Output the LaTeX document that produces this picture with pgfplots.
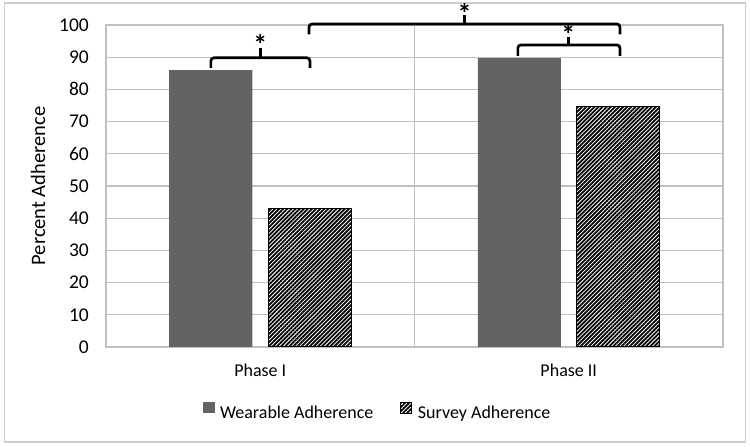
\documentclass[border=0pt]{standalone}
\usepackage{fontspec}
\setmainfont{Carlito}
\usepackage{pgfplots}
\pgfplotsset{compat=1.18}
\usetikzlibrary{patterns.meta}
\definecolor{wear}{RGB}{99,99,99}
\definecolor{gridc}{RGB}{192,192,192}
\definecolor{framec}{RGB}{205,205,205}
\begin{document}
\begin{tikzpicture}[x=1pt,y=1pt]
\useasboundingbox (0,0) rectangle (750,447);
\draw[color=framec, line width=1.2pt] (4.5,5) rectangle (745.5,444);
\begin{axis}[
  at={(106pt,100pt)}, anchor=south west,
  scale only axis, width=617pt, height=322pt,
  ybar=16pt, bar width=83pt,
  xmin=-0.5, xmax=1.5, ymin=0, ymax=100,
  xtick={0,1}, xticklabels={Phase I, Phase II},
  extra x ticks={0.5}, extra x tick labels={},
  extra x tick style={xmajorgrids=true},
  ytick={0,10,...,100},
  ymajorgrids,
  /pgf/number format/assume math mode=true,
  major grid style={color=gridc, line width=1.2pt},
  axis line style={color=gridc, line width=1.2pt},
  major tick length=0pt,
  xticklabel style={font=\fontsize{18}{21}\selectfont, inner sep=0pt, yshift=-17pt},
  yticklabel style={font=\fontsize{19.5}{22}\selectfont, inner sep=0pt, xshift=-17pt},
  ylabel={Percent Adherence},
  every axis y label/.style={at={(axis description cs:-0.1102,0.5)}, anchor=center, rotate=90, font=\fontsize{20.5}{24}\selectfont},
  clip=false,
  legend columns=2,
  legend style={at={(axis description cs:0.4408,-0.2019)}, anchor=center, draw=none, fill=none,
    font=\fontsize{18}{21}\selectfont,
    nodes={inner sep=2.5pt},
    /tikz/every odd column/.append style={column sep=3pt},
    /tikz/every even column/.append style={column sep=24pt}},
  legend image code/.code={\path[#1] (0pt,-0.5pt) rectangle (11.5pt,10.5pt);},
]
\addplot[fill=wear, draw=none] coordinates {(0,86) (1,89.7)};
\addlegendentry{Wearable Adherence}
\addplot[fill=white, draw=black, line width=1pt, postaction={pattern={Lines[angle=45,distance=2.9pt,line width=1.8pt]}}] coordinates {(0,43.1) (1,74.6)};
\addlegendentry{Survey Adherence}
% significance brackets
\draw[line width=2.7pt, rounded corners=3pt] (axis cs:-0.160,86.7) -- (axis cs:-0.160,89.8) -- (axis cs:0.161,89.8) -- (axis cs:0.161,86.7);
\draw[line width=2.7pt] (axis cs:0,89.8) -- (axis cs:0,92.8);
\node[anchor=base, inner sep=0pt, font=\bfseries\fontsize{28}{30}\selectfont] at (axis cs:0,90.8) {*};
\draw[line width=2.7pt, rounded corners=3pt] (axis cs:0.158,97.1) -- (axis cs:0.158,100.3) -- (axis cs:1.166,100.3) -- (axis cs:1.166,97.1);
\draw[line width=2.7pt] (axis cs:0.662,100.3) -- (axis cs:0.662,103.0);
\node[anchor=base, inner sep=0pt, font=\bfseries\fontsize{28}{30}\selectfont] at (axis cs:0.662,100.5) {*};
\draw[line width=2.7pt, rounded corners=3pt] (axis cs:0.835,90.4) -- (axis cs:0.835,93.8) -- (axis cs:1.166,93.8) -- (axis cs:1.166,90.4);
\draw[line width=2.7pt] (axis cs:0.999,93.8) -- (axis cs:0.999,96.4);
\node[anchor=base, inner sep=0pt, font=\bfseries\fontsize{28}{30}\selectfont] at (axis cs:0.999,94.0) {*};
\end{axis}
\end{tikzpicture}
\end{document}
